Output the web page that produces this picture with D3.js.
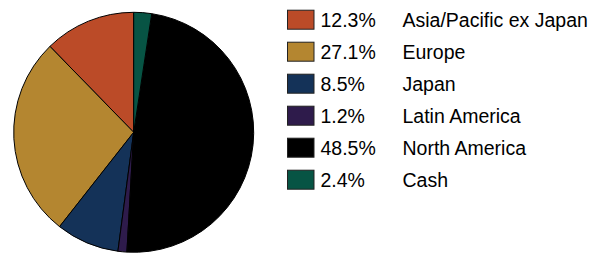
<!DOCTYPE html>
<html>
<head>
<meta charset="utf-8">
<script src="https://cdn.jsdelivr.net/npm/d3@7"></script>
<style>
    body { margin: 0; background: #fff; }
    text { font-family: "Liberation Sans", Arial, sans-serif; fill: #000; }
</style>
</head>
<body>
<div id="content"></div>
<script>
var regions = ["Asia/Pacific ex Japan", "Europe", "Japan", "Latin America", "North America", "Cash"];
var weights = [12.3, 27.1, 8.5, 1.2, 48.5, 2.4];
var colors = ["#BB4B28", "#B48630", "#143258", "#2E1B4B", "#000000", "#075444"];

var data = regions.map(function(r, i) {
    return { region: r, value: weights[i], color: colors[i] };
});

var width = 594, height = 254;

var svg = d3.select("div#content").append("svg")
    .attr("width", width)
    .attr("height", height);

// slices run counter-clockwise from 12 o'clock
var pie = d3.pie()
    .sort(null)
    .value(function(d) { return d.value; })
    .startAngle(0)
    .endAngle(-2 * Math.PI);

var arc = d3.arc().innerRadius(0).outerRadius(120);

var g = svg.append("g")
    .attr("transform", "translate(133.7,132.3)");

g.selectAll("path")
    .data(pie(data))
    .enter().append("path")
    .attr("d", arc)
    .attr("fill", function(d) { return d.data.color; })
    .attr("stroke", "#000")
    .attr("stroke-width", 1);

var y = d3.scaleBand()
    .domain(regions)
    .range([3.7, 3.7 + 32 * regions.length]);

var legend = svg.append("g");

var row = legend.selectAll("g")
    .data(data)
    .enter().append("g")
    .attr("transform", function(d) { return "translate(0," + (y(d.region) + 16) + ")"; });

row.append("rect")
    .attr("x", 287.5)
    .attr("y", -9.5)
    .attr("width", 26.5)
    .attr("height", 19)
    .attr("fill", function(d) { return d.color; })
    .attr("stroke", "#222")
    .attr("stroke-width", 1);

row.append("text")
    .attr("x", 320.5)
    .attr("y", 7)
    .style("font-size", "19.5px")
    .text(function(d) { return d.value.toFixed(1) + "%"; });

row.append("text")
    .attr("x", 402.5)
    .attr("y", 7)
    .style("font-size", "19.5px")
    .text(function(d) { return d.region; });
</script>
</body>
</html>
